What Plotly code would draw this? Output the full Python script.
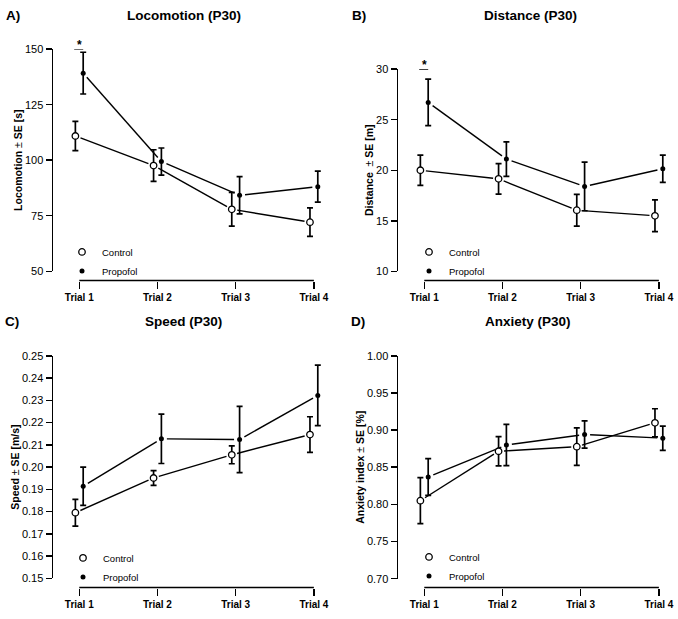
import math
import plotly.graph_objects as go

# ---------------- data ----------------
trials = ["Trial 1", "Trial 2", "Trial 3", "Trial 4"]
trial_pos = [1, 2, 3, 4]
groups = ["Control", "Propofol"]

loco_control = [110.9, 97.6, 77.9, 72.1]
loco_control_se = [6.6, 7.1, 7.6, 6.4]
loco_propofol = [139.2, 99.4, 84.2, 88.1]
loco_propofol_se = [9.4, 6.1, 8.4, 7.0]

dist_control = [20.0, 19.15, 16.05, 15.5]
dist_control_se = [1.5, 1.5, 1.57, 1.57]
dist_propofol = [26.7, 21.1, 18.4, 20.15]
dist_propofol_se = [2.3, 1.7, 2.4, 1.35]

speed_control = [0.1795, 0.1951, 0.2055, 0.2146]
speed_control_se = [0.0060, 0.0033, 0.0040, 0.0080]
speed_propofol = [0.1914, 0.2127, 0.2124, 0.2322]
speed_propofol_se = [0.0086, 0.0111, 0.0149, 0.0136]

anx_control = [0.805, 0.8715, 0.8777, 0.9098]
anx_control_se = [0.0309, 0.0196, 0.0253, 0.0189]
anx_propofol = [0.8368, 0.8799, 0.894, 0.8891]
anx_propofol_se = [0.0247, 0.0278, 0.0183, 0.0163]

loco_ticks = [50, 75, 100, 125, 150]
dist_ticks = [10, 15, 20, 25, 30]
speed_ticks = [0.15, 0.16, 0.17, 0.18, 0.19, 0.20, 0.21, 0.22, 0.23, 0.24, 0.25]
anx_ticks = [0.70, 0.75, 0.80, 0.85, 0.90, 0.95, 1.00]

loco_sig = ["Trial 1"]
dist_sig = ["Trial 1"]

panels = [
    dict(letter="A)", title="Locomotion (P30)",
         ytitle="<b>Locomotion</b> ± <b>SE [s]</b>",
         data=[(loco_control, loco_control_se), (loco_propofol, loco_propofol_se)],
         ticks=loco_ticks, fmt=None, sig=loco_sig),
    dict(letter="B)", title="Distance (P30)",
         ytitle="<b>Distance</b>  ± <b>SE [m]</b>",
         data=[(dist_control, dist_control_se), (dist_propofol, dist_propofol_se)],
         ticks=dist_ticks, fmt=None, sig=dist_sig),
    dict(letter="C)", title="Speed (P30)",
         ytitle="<b>Speed</b> ± <b>SE [m/s]</b>",
         data=[(speed_control, speed_control_se), (speed_propofol, speed_propofol_se)],
         ticks=speed_ticks, fmt=".2f", sig=[]),
    dict(letter="D)", title="Anxiety (P30)",
         ytitle="<b>Anxiety index</b> ± <b>SE [%]</b>",
         data=[(anx_control, anx_control_se), (anx_propofol, anx_propofol_se)],
         ticks=anx_ticks, fmt=".2f", sig=[]),
]

# ---------------- layout geometry (pixels) ----------------
W, H = 678, 619
FONT = "Liberation Sans, Arial, sans-serif"
offsets = [-0.05, 0.05]
px_per_trial = 78.2
x_lo = 0.664
geom = [
    dict(x0=53.0, ytop=44.0, ybot=270.5, xaxis_px=280.0, title_x=183.5, title_y=10, letter_x=12.5, letter_y=10,
         leg_x=62, leg_y=236),
    dict(x0=398.0, ytop=64.3, ybot=270.7, xaxis_px=280.0, title_x=530.0, title_y=10, letter_x=358.5, letter_y=10,
         leg_x=409, leg_y=236),
    dict(x0=53.0, ytop=356.7, ybot=583.7, xaxis_px=593.0, title_x=183.5, title_y=322, letter_x=11.5, letter_y=322,
         leg_x=63, leg_y=548),
    dict(x0=398.0, ytop=356.7, ybot=584.0, xaxis_px=593.0, title_x=528.0, title_y=322, letter_x=358, letter_y=322,
         leg_x=409, leg_y=547),
]
GAP = 5.5

fig = go.Figure()
layout = dict(width=W, height=H, margin=dict(l=0, r=0, t=0, b=0, pad=0),
              paper_bgcolor="white", plot_bgcolor="white",
              font=dict(family=FONT, color="black"), showlegend=True)
shapes, annotations = [], []

for i, (p, g) in enumerate(zip(panels, geom)):
    n = "" if i == 0 else str(i + 1)
    xa, ya = "x" + n, "y" + n
    lg = "legend" + n
    x1_px = min(g["x0"] + (4.336 - x_lo) * px_per_trial, W)
    x_hi = x_lo + (x1_px - g["x0"]) / px_per_trial
    ymin, ymax = p["ticks"][0], p["ticks"][-1]
    sy = (g["ybot"] - g["ytop"]) / (ymax - ymin)

    # connecting lines with gaps around points (R type = "b")
    for k, ((vals, se), off) in enumerate(zip(p["data"], offsets)):
        xs = [t + off for t in trial_pos]
        lx, ly = [], []
        for j in range(len(xs) - 1):
            dxp = (xs[j + 1] - xs[j]) * px_per_trial
            dyp = (vals[j + 1] - vals[j]) * sy
            L = math.hypot(dxp, dyp)
            f = GAP / L
            lx += [xs[j] + f * (xs[j + 1] - xs[j]), xs[j + 1] - f * (xs[j + 1] - xs[j]), None]
            ly += [vals[j] + f * (vals[j + 1] - vals[j]), vals[j + 1] - f * (vals[j + 1] - vals[j]), None]
        fig.add_trace(go.Scatter(x=lx, y=ly, mode="lines", line=dict(color="black", width=1.4),
                                 xaxis=xa, yaxis=ya, showlegend=False, hoverinfo="skip"))
    for k, ((vals, se), off) in enumerate(zip(p["data"], offsets)):
        xs = [t + off for t in trial_pos]
        if k == 0:
            marker = dict(symbol="circle", size=6.5, color="white", line=dict(color="black", width=1.3))
        else:
            marker = dict(symbol="circle", size=5, color="black", line=dict(color="black", width=0))
        fig.add_trace(go.Scatter(
            x=xs, y=vals, mode="markers", name=groups[k], marker=marker,
            error_y=dict(type="data", array=se, visible=True, color="black", thickness=1.7, width=3),
            xaxis=xa, yaxis=ya, legend=lg, showlegend=True))

    xdom = [g["x0"] / W, x1_px / W]
    ydom = [1 - g["ybot"] / H, 1 - g["ytop"] / H]
    layout["xaxis" + n] = dict(
        domain=xdom, range=[x_lo, x_hi], anchor="free", position=1 - g["xaxis_px"] / H,
        showgrid=False, zeroline=False, showline=False,
        tickmode="array", tickvals=trial_pos, ticktext=trials,
        ticks="outside", ticklen=7, tickwidth=1.5, tickcolor="black",
        tickfont=dict(family=FONT, size=10, weight="bold", color="black"))
    layout["yaxis" + n] = dict(
        domain=ydom, range=[ymin, ymax], anchor=xa,
        showgrid=False, zeroline=False, showline=True, linecolor="black", linewidth=1.5,
        tickmode="array", tickvals=p["ticks"], tickformat=p["fmt"],
        ticks="outside", ticklen=6, tickwidth=1.5, tickcolor="black",
        tickfont=dict(family=FONT, size=11, color="black"),
        title=dict(text=p["ytitle"], font=dict(family=FONT, size=10.5, color="black"), standoff=0))
    layout[lg] = dict(x=g["leg_x"] / W, y=1 - g["leg_y"] / H, xanchor="left", yanchor="top",
                      bgcolor="rgba(0,0,0,0)", font=dict(family=FONT, size=9.5, color="black"),
                      tracegroupgap=0, itemwidth=30)

    # R-style x axis line spanning first..last trial
    shapes.append(dict(type="line", xref=xa, yref="paper", x0=trial_pos[0], x1=trial_pos[-1],
                       y0=1 - g["xaxis_px"] / H, y1=1 - g["xaxis_px"] / H,
                       line=dict(color="black", width=1.5)))
    # significance markers
    for s in p["sig"]:
        t = trial_pos[trials.index(s)]
        shapes.append(dict(type="line", xref=xa, yref=ya, x0=t + offsets[0] - 0.015, x1=t + offsets[1],
                           y0=ymax, y1=ymax, line=dict(color="black", width=1.4)))
        annotations.append(dict(x=t, y=ymax, xref=xa, yref=ya, text="<b>*</b>", showarrow=False,
                                yanchor="middle", yshift=4, font=dict(family=FONT, size=12, color="black")))
    annotations.append(dict(x=g["title_x"] / W, y=1 - g["title_y"] / H, xref="paper", yref="paper",
                            text="<b>" + p["title"] + "</b>", showarrow=False, xanchor="center", yanchor="middle",
                            font=dict(family=FONT, size=13.5, color="black")))
    annotations.append(dict(x=g["letter_x"] / W, y=1 - g["letter_y"] / H, xref="paper", yref="paper",
                            text="<b>" + p["letter"] + "</b>", showarrow=False, xanchor="center", yanchor="middle",
                            font=dict(family=FONT, size=13.5, color="black")))

layout["shapes"] = shapes
layout["annotations"] = annotations
fig.update_layout(**layout)
fig.write_html("out.html",
               config={"displayModeBar": False, "staticPlot": True},
               post_script="document.body.style.margin='0px';document.body.style.padding='0px';"
                           "document.body.style.overflow='hidden';")
